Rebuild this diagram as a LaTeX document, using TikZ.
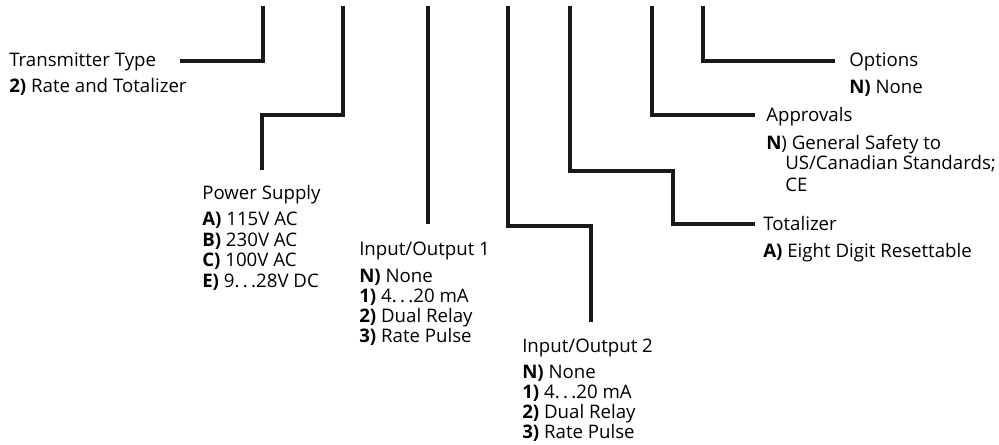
\documentclass[tikz,border=0pt]{standalone}
\usepackage{fontspec}
\setmainfont{Open Sans}
\newcommand{\dts}{.\hspace{0.18em}.\hspace{0.18em}.}
\begin{document}
\begin{tikzpicture}[x=0.75pt,y=-0.75pt,
  lbl/.style={anchor=base west,inner sep=0pt,font=\fontsize{14}{16}\selectfont},
  conn/.style={line width=2.9pt,line cap=butt,line join=miter,draw=black!90}]
\useasboundingbox (0,0) rectangle (999,445);
% labels
\node[lbl] (tt)  at (9,67)   {Transmitter Type};
\node[lbl] (tt1) at (9,93)   {\textbf{2)} Rate and Totalizer};
\node[lbl] (ps)  at (202,200) {Power Supply};
\node[lbl] (psa) at (202,226) {\textbf{A)} 115V AC};
\node[lbl] (psb) at (202,246.5) {\textbf{B)} 230V AC};
\node[lbl] (psc) at (202,267) {\textbf{C)} 100V AC};
\node[lbl] (pse) at (202,287.5) {\textbf{E)} 9\dts28V DC};
\node[lbl] (ioa)  at (359,256) {Input/Output 1};
\node[lbl] (ioan) at (359,282) {\textbf{N)} None};
\node[lbl] (ioa1) at (359,302) {\textbf{1)} 4\dts20 mA};
\node[lbl] (ioa2) at (359,322) {\textbf{2)} Dual Relay};
\node[lbl] (ioa3) at (359,342) {\textbf{3)} Rate Pulse};
\node[lbl] (iob)  at (522,352) {Input/Output 2};
\node[lbl] (iobn) at (522,378) {\textbf{N)} None};
\node[lbl] (iob1) at (522,398) {\textbf{1)} 4\dts20 mA};
\node[lbl] (iob2) at (522,418) {\textbf{2)} Dual Relay};
\node[lbl] (iob3) at (522,438) {\textbf{3)} Rate Pulse};
\node[lbl] (op)  at (849,67) {Options};
\node[lbl] (opn) at (849,93.5) {\textbf{N)} None};
\node[lbl] (ap)  at (766,121.5) {Approvals};
\node[lbl] (apn) at (766,149.5) {\textbf{N}) General Safety to};
\node[lbl] (apu) at (785,170) {US/Canadian Standards;};
\node[lbl] (apc) at (785,191.5) {CE};
\node[lbl] (to)  at (763,230.5) {Totalizer};
\node[lbl] (toa) at (763,257.5) {\textbf{A)} Eight Digit Resettable};
% connector points
\coordinate (t1) at (263,6);  \coordinate (e1) at (180,61);
\coordinate (t2) at (343,6);  \coordinate (c2) at (262,115); \coordinate (e2) at (262,170);
\coordinate (t3) at (428,6);  \coordinate (e3) at (428,224);
\coordinate (t4) at (508,6);  \coordinate (c4) at (591,226); \coordinate (e4) at (591,322);
\coordinate (t5) at (570,6);  \coordinate (c5) at (673,171); \coordinate (e5) at (755,224);
\coordinate (t6) at (652,6);  \coordinate (e6) at (755,115);
\coordinate (t7) at (703,6);  \coordinate (e7) at (835,61);
% connectors
\draw[conn] (t1) |- (e1);
\draw[conn] (t2) |- (c2) -- (e2);
\draw[conn] (t3) -- (e3);
\draw[conn] (t4) |- (c4) -- (e4);
\draw[conn] (t5) |- (c5) |- (e5);
\draw[conn] (t6) |- (e6);
\draw[conn] (t7) |- (e7);
\end{tikzpicture}
\end{document}
